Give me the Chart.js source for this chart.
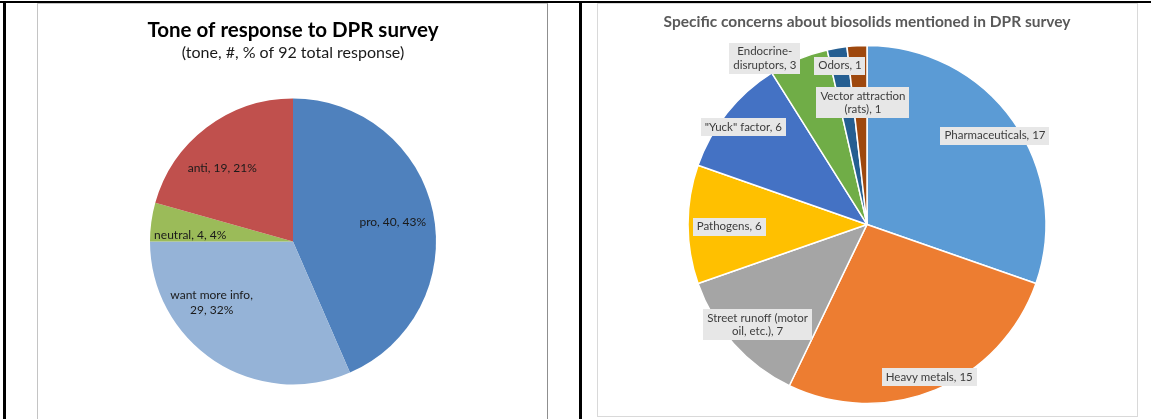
<!DOCTYPE html>
<html>
<head>
<meta charset="utf-8">
<title>DPR survey</title>
<script src="https://cdn.jsdelivr.net/npm/chart.js@4.4.1/dist/chart.umd.min.js"></script>
<style>
  html, body { margin: 0; padding: 0; background: #fff; }
  body { width: 1151px; height: 419px; position: relative; overflow: hidden; }
  .rule { position: absolute; background: #000; }
  .frame { position: absolute; box-sizing: border-box; background: #fff; }
  #leftFrame { left: 37px; top: 3px; width: 511px; height: 420px; border: 1px solid #c4c4c4; border-right-color: #8f8f8f; border-bottom: none; }
  #rightFrame { left: 597px; top: 3px; width: 541px; height: 414px; border: 1px solid #d9d9d9; }
  canvas { position: absolute; }
</style>
</head>
<body>
<div class="rule" style="left:0;top:1px;width:1151px;height:2px"></div>
<div class="rule" style="left:3px;top:1px;width:3px;height:418px"></div>
<div class="rule" style="left:579px;top:1px;width:3px;height:418px"></div>
<div class="frame" id="leftFrame"></div>
<div class="frame" id="rightFrame"></div>
<canvas id="toneChart" style="left:38px;top:4px;width:508px;height:415px" width="508" height="415"></canvas>
<canvas id="concernChart" style="left:598px;top:4px;width:538px;height:412px" width="538" height="412"></canvas>
<script>
// tone of response (left pie)
const toneCategories = ["pro", "want more info", "neutral", "anti"];
const toneValues = [40, 29, 4, 19];
const toneColors = ["#4F81BD", "#95B3D7", "#9BBB59", "#C0504D"];

// specific concerns (right pie)
const concernCategories = [
  "Pharmaceuticals",
  "Heavy metals",
  "Street runoff (motor\noil, etc.)",
  "Pathogens",
  "\"Yuck\" factor",
  "Endocrine-\ndisruptors",
  "Odors",
  "Vector attraction\n(rats)",
];
const concernValues = [17, 15, 7, 6, 6, 3, 1, 1];
const concernColors = ["#5B9BD5", "#ED7D31", "#A5A5A5", "#FFC000", "#4472C4", "#70AD47", "#255E91", "#9E480E"];

// where each label sits: fraction of radius, and degrees off the slice middle
const toneLabelRadius = [0.71, 0.71, 0.72, 0.71];
const toneLabelShift = [1, 20, -4.5, -7];
const concernLabelRadius = [0.87, 0.92, 0.83, 0.77, 0.88, 1.09, 0.9, 0.68];
const concernLabelShift = [0.6, 0.3, -0.8, -0.8, -0.3, -9.1, 0, 1.3];

const toneTotal = toneValues.reduce((a, b) => a + b, 0);
const toneLines = toneCategories.map((c, i) => {
  const tail = `${toneValues[i]}, ${Math.round((toneValues[i] / toneTotal) * 100)}%`;
  return i === 1 ? [`${c},`, tail] : [`${c}, ${tail}`];
});
const concernLines = concernCategories.map((c, i) => `${c}, ${concernValues[i]}`.split("\n"));

// labels drawn at the arc geometry the library computed
const sliceLabels = {
  id: "sliceLabels",
  afterDatasetsDraw(chart, args, opts) {
    const ctx = chart.ctx;
    const arcs = chart.getDatasetMeta(0).data;
    ctx.save();
    ctx.font = opts.font;
    ctx.textAlign = "center";
    ctx.textBaseline = "middle";
    arcs.forEach((arc, i) => {
      const p = arc.getProps(["x", "y", "startAngle", "endAngle", "outerRadius"], true);
      const a = (p.startAngle + p.endAngle) / 2 + (opts.shift[i] * Math.PI) / 180;
      const r = p.outerRadius * opts.radius[i];
      const cx = p.x + Math.cos(a) * r;
      const cy = p.y + Math.sin(a) * r;
      const lines = opts.lines[i];
      const lh = opts.lineHeight;
      if (opts.box) {
        const w = Math.max(...lines.map((l) => ctx.measureText(l).width)) + opts.padX * 2;
        const h = lines.length * lh + opts.padY * 2;
        ctx.fillStyle = opts.box;
        ctx.fillRect(Math.round(cx - w / 2), Math.round(cy - h / 2), Math.round(w), Math.round(h));
      }
      ctx.fillStyle = opts.color;
      lines.forEach((l, k) => {
        ctx.fillText(l, cx, cy - ((lines.length - 1) * lh) / 2 + k * lh);
      });
    });
    ctx.restore();
  },
};

new Chart(document.getElementById("toneChart"), {
  type: "pie",
  data: {
    labels: toneCategories,
    datasets: [
      {
        data: toneValues,
        backgroundColor: toneColors,
        borderWidth: 0,
        radius: 143,
      },
    ],
  },
  options: {
    responsive: false,
    animation: false,
    events: [],
    layout: { padding: { left: 2, right: 0, top: 0, bottom: 0 } },
    plugins: {
      legend: { display: false },
      tooltip: { enabled: false },
      title: {
        display: true,
        text: "Tone of response to DPR survey",
        color: "#000",
        font: { family: "Lato", size: 20.5, weight: "bold" },
        padding: { top: 14, bottom: 0 },
      },
      subtitle: {
        display: true,
        text: "(tone, #, % of 92 total response)",
        color: "#1a1a1a",
        font: { family: "Lato", size: 16 },
        padding: { top: 1, bottom: 1 },
      },
      sliceLabels: {
        lines: toneLines,
        radius: toneLabelRadius,
        shift: toneLabelShift,
        font: "12px Lato",
        color: "#1a1a1a",
        lineHeight: 15,
      },
    },
  },
  plugins: [sliceLabels],
});

new Chart(document.getElementById("concernChart"), {
  type: "pie",
  data: {
    labels: concernCategories,
    datasets: [
      {
        data: concernValues,
        backgroundColor: concernColors,
        borderColor: "#fff",
        borderWidth: 1.5,
        radius: 179,
      },
    ],
  },
  options: {
    responsive: false,
    animation: false,
    events: [],
    layout: { padding: { left: 0, right: 0, top: 0, bottom: 0.4 } },
    plugins: {
      legend: { display: false },
      tooltip: { enabled: false },
      title: {
        display: true,
        text: "Specific concerns about biosolids mentioned in DPR survey",
        color: "#595959",
        font: { family: "Lato", size: 15.5, weight: "bold" },
        padding: { top: 9, bottom: 1.7 },
      },
      sliceLabels: {
        lines: concernLines,
        radius: concernLabelRadius,
        shift: concernLabelShift,
        font: "11.5px Lato",
        color: "#3c3c3c",
        lineHeight: 13.5,
        box: "#E7E7E7",
        padX: 4,
        padY: 2,
      },
    },
  },
  plugins: [sliceLabels],
});
</script>
</body>
</html>
